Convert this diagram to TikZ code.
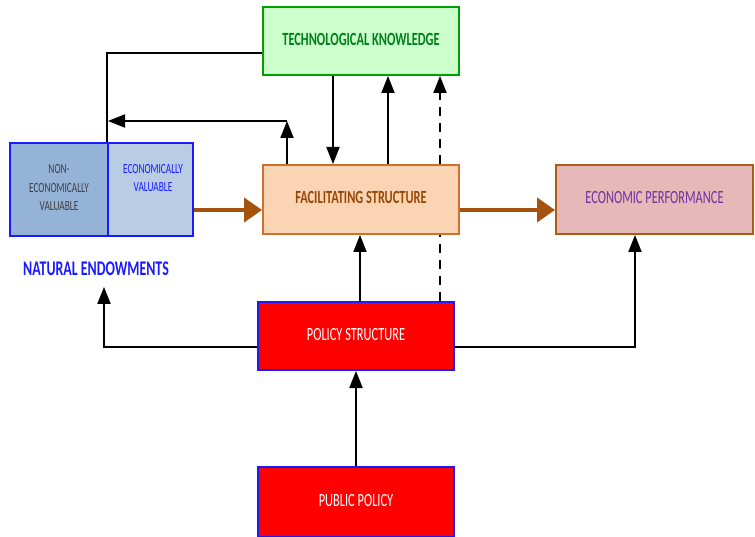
\documentclass[tikz,border=0pt]{standalone}
\usepackage{fontspec}
\setmainfont{Carlito}
\usepackage{graphicx}
\usetikzlibrary{arrows.meta}
\definecolor{tkfill}{HTML}{CCFFCC}
\definecolor{tkdraw}{HTML}{00A000}
\definecolor{tktext}{HTML}{00801A}
\definecolor{fsfill}{HTML}{FBD4B4}
\definecolor{fsdraw}{HTML}{D0702C}
\definecolor{fstext}{HTML}{984806}
\definecolor{epfill}{HTML}{E6B8B7}
\definecolor{epdraw}{HTML}{B05A14}
\definecolor{eptext}{HTML}{7030A0}
\definecolor{nvfill}{HTML}{95B3D7}
\definecolor{evfill}{HTML}{B8CCE4}
\definecolor{bluedraw}{HTML}{1A1AFF}
\definecolor{brn}{HTML}{A5520F}
\newcommand\sx[1]{\scalebox{1}[1.5]{\begin{tabular}{@{}c@{}}#1\end{tabular}}}
\tikzset{
  box/.style={draw, line width=2pt, minimum width=196pt, minimum height=68pt, inner sep=0pt, font=\fontsize{12.4}{14}\selectfont},
  blk/.style={draw=black, line width=2pt, -{Triangle[length=17pt,width=13pt]}},
  plain/.style={draw=black, line width=2pt},
  brnarrow/.style={draw=brn, line width=4pt, -{Triangle[length=18pt,width=24pt]}},
  smalltxt/.style={font=\fontsize{9.3}{12.3}\selectfont}
}
\begin{document}
\begin{tikzpicture}[x=1pt,y=-1pt]
\useasboundingbox (0,0) rectangle (755,537);
% nodes
\node[box, fill=tkfill, draw=tkdraw, text=tktext, font=\fontsize{12.4}{14}\selectfont\bfseries] (tech) at (361,41) {\sx{TECHNOLOGICAL KNOWLEDGE}};
\node[box, fill=fsfill, draw=fsdraw, text=fstext, minimum height=69pt, font=\fontsize{12.4}{14}\selectfont\bfseries] (fac) at (361,199.5) {\sx{FACILITATING STRUCTURE}};
\node[box, fill=epfill, draw=epdraw, text=eptext, minimum width=197pt, minimum height=69pt] (econ) at (654.5,199.5) {\sx{ECONOMIC PERFORMANCE}};
\node[box, fill=red, draw=bluedraw, text=white] (pol) at (356,336) {\sx{POLICY STRUCTURE}};
\node[box, fill=red, draw=bluedraw, text=white, minimum height=70pt] (pub) at (356,502) {\sx{PUBLIC POLICY}};
\node[draw=bluedraw, line width=2pt, fill=nvfill, minimum width=98pt, minimum height=93pt, inner sep=0pt] (nonv) at (59,189.5) {};
\node[draw=bluedraw, line width=2pt, fill=evfill, minimum width=85pt, minimum height=93pt, inner sep=0pt] (ecov) at (150.5,189.5) {};
\node[smalltxt, text=black!75, inner sep=0pt] (nvtext) at (59,188.5) {\sx{NON-\\ECONOMICALLY\\VALUABLE}};
\node[smalltxt, text=bluedraw, inner sep=0pt] (evtext) at (153,179) {\sx{ECONOMICALLY\\VALUABLE}};
\node[text=bluedraw, font=\fontsize{13.9}{16}\selectfont\bfseries, inner sep=0pt] (nat) at (96,271) {\sx{NATURAL ENDOWMENTS}};
% coordinates
\coordinate (c1) at (287,121);
\coordinate (c2) at (108,121);
\coordinate (natpt) at (104,287);
% connectors
\draw[plain, dash pattern=on 9pt off 7pt] ([xshift=84pt]pol.north) -- ([xshift=84pt]pol.north |- fac.south);
\draw[plain, dash pattern=on 9pt off 7pt, -{Triangle[length=17pt,width=13pt]}] ([xshift=79pt]fac.north) -- ([xshift=79pt]tech.south);
\draw[blk] ([xshift=-28pt]tech.south) -- ([xshift=-28pt]fac.north);
\draw[blk] ([xshift=27pt]fac.north) -- ([xshift=27pt]tech.south);
\draw[plain] ([yshift=-12pt]tech.west) -| (ecov.north west);
\draw[blk] ([xshift=-74pt]fac.north) -- (c1);
\draw[blk] (c1) -- (c2);
\draw[brnarrow] ([yshift=-20.5pt]ecov.east) -- ([yshift=-20.5pt]ecov.east -| fac.west);
\draw[brnarrow] ([yshift=-10.5pt]fac.east) -- ([yshift=-10.5pt]fac.east -| econ.west);
\draw[blk] ([xshift=4pt]pol.north) -- ([xshift=4pt]pol.north |- fac.south);
\draw[blk] ([yshift=-11pt]pol.west) -| (natpt);
\draw[blk] ([yshift=-11pt]pol.east) -| ([xshift=-19.5pt]econ.south);
\draw[blk] (pub.north) -- (pol.south);
\end{tikzpicture}
\end{document}
